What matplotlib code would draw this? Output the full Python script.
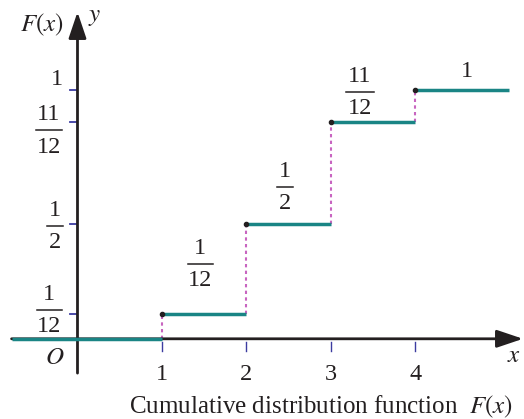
import matplotlib
matplotlib.use("Agg")
import matplotlib.pyplot as plt

plt.rcParams['font.family'] = ['Liberation Serif', 'DejaVu Serif']
plt.rcParams['mathtext.fontset'] = 'stix'

# jump points of the step function and the heights as drawn in the picture
jumps = [1, 2, 3, 4]
levels = [0.0, 0.0985, 0.4616, 0.8705, 1.0]
level_num = ['1', '1', '11', '1']
level_den = ['12', '2', '12', None]
x_ticks = [1, 2, 3, 4]

teal = '#1a8585'
pink = '#c865c0'
tickblue = '#3c3ca0'
ink = '#231f20'
fs = 17.5

fig = plt.figure(figsize=(5.24, 4.19), dpi=100)
ax = fig.add_axes([0, 0, 1, 1])
ax.set_xlim(-0.917, 5.284)
ax.set_ylim(-0.3225, 1.3623)
ax.axis('off')

# axes with arrows
ax.annotate('', xy=(5.272, 0), xytext=(-0.78, 0),
            arrowprops=dict(arrowstyle='-|>,head_length=0.8,head_width=0.27',
                            mutation_scale=20, lw=2, color=ink, shrinkA=0, shrinkB=0))
ax.annotate('', xy=(0, 1.314), xytext=(0, -0.138),
            arrowprops=dict(arrowstyle='-|>,head_length=0.8,head_width=0.27',
                            mutation_scale=20, lw=2, color=ink, shrinkA=0, shrinkB=0))

# step segments
xs = [-0.775] + jumps + [5.107]
for i in range(len(levels)):
    ax.plot([xs[i], xs[i + 1]], [levels[i], levels[i]], color=teal, lw=2.5,
            solid_capstyle='butt', zorder=3)
for i, xj in enumerate(jumps):
    ax.plot([xj, xj], [levels[i], levels[i + 1]], color=pink, lw=1.5,
            ls=(0, (1.6, 1.6)), zorder=2)
    ax.plot(xj, levels[i + 1], 'o', color=ink, ms=3, zorder=4)

# ticks
for lv in levels[1:]:
    ax.plot([-0.089, 0.0], [lv, lv], color=tickblue, lw=1.3, zorder=1)
for xt in x_ticks:
    ax.plot([xt, xt], [-0.013, -0.049], color=tickblue, lw=1.0)
    ax.text(xt, -0.1455, str(xt), fontsize=fs, color=ink, ha='center', va='center')


def frac(x, y, num, den, w):
    if den is None:
        ax.text(x, y, num, fontsize=fs, color=ink, ha='center', va='center')
        return
    ax.plot([x - w / 2, x + w / 2], [y, y], color=ink, lw=1.1)
    ax.annotate(num, xy=(x, y), xytext=(0, 11.5), textcoords='offset points',
                fontsize=fs, color=ink, ha='center', va='center')
    ax.annotate(den, xy=(x, y), xytext=(0, -12), textcoords='offset points',
                fontsize=fs, color=ink, ha='center', va='center')


# labels on the y axis
ylab_pos = [(-0.337, 0.1158, 0.296), (-0.266, 0.4535, 0.19),
            (-0.337, 0.8376, 0.308), (-0.243, 1.041, 0)]
for (x, y, w), n, d in zip(ylab_pos, level_num, level_den):
    frac(x, y, n, d, w)

# labels above the steps
step_pos = [(1.450, 0.3008, 0.296), (2.456, 0.6104, 0.2),
            (3.343, 0.9924, 0.32), (4.609, 1.073, 0)]
for (x, y, w), n, d in zip(step_pos, level_num, level_den):
    frac(x, y, n, d, w)

ax.text(-0.417, 1.262, r'$F(x)$', fontsize=18, color=ink, ha='center', va='center')
ax.text(0.2, 1.294, r'$y$', fontsize=18, color=ink, ha='center', va='center')
ax.text(-0.266, -0.077, r'$O$', fontsize=18, color=ink, ha='center', va='center')
ax.text(5.17, -0.069, r'$x$', fontsize=18, color=ink, ha='center', va='center')

fig.text(321 / 524, 1 - 407 / 419, r'Cumulative distribution function  $F(x)$',
         fontsize=18, color=ink, ha='center', va='center')

fig.savefig('out.png', dpi=100)
